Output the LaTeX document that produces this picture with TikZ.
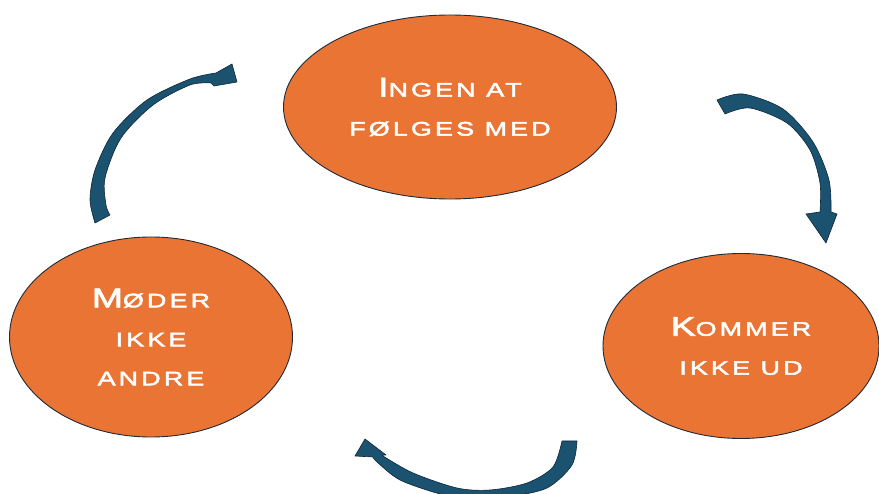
\documentclass[tikz,border=0pt]{standalone}
\usepackage{fontspec}
\setmainfont{Liberation Sans}[FakeStretch=1.38,LetterSpace=16,FakeBold=2.6]
\usetikzlibrary{shapes.geometric}

\definecolor{bubbleorange}{RGB}{233,116,52}
\definecolor{bubbleline}{RGB}{32,42,56}
\definecolor{swoopfill}{RGB}{26,82,112}
\definecolor{swoopline}{RGB}{14,38,56}

% first letter of each label is a full capital, the rest small capitals
\newcommand{\firstcap}[1]{{\fontsize{27}{39}\selectfont #1}}

\begin{document}
\begin{tikzpicture}[
    x=1pt, y=-1pt,
    bubble/.style={ellipse, draw=bubbleline, line width=0.9pt, fill=bubbleorange,
      text=white, align=center, inner sep=0pt,
      font=\fontsize{19.5}{39}\selectfont},
    swoop/.style={fill=swoopfill, draw=swoopline, line width=0.6pt, line join=round}
  ]
    \useasboundingbox (0,0) rectangle (879,494);
    \clip (0,0) rectangle (879,494);

    % the three bubbles
    \node[bubble, minimum width=333pt, minimum height=184pt] (ingen) at (450,107)
        {\firstcap{I}NGEN AT\\FØLGES MED};
    \node[bubble, minimum width=276pt, minimum height=185pt] (kommer) at (741,346)
        {\firstcap{K}OMMER\\IKKE UD};
    \node[bubble, minimum width=283pt, minimum height=200pt] (moder) at (151,337)
        {\firstcap{M}ØDER\\IKKE\\ANDRE};

    % curved arrow, left bubble to top bubble
    \filldraw[swoop] plot[smooth] coordinates {(95,223) (90,200) (95,170) (113,133) (147,100) (190,79) (216,73)}
        -- (232,64) -- (237,82) -- (214,86)
        -- plot[smooth] coordinates {(211,83) (190,85) (153,105) (121,138) (105,178) (106,205) (110,215)}
        -- cycle;

    % curved arrow, top bubble to right bubble
    \filldraw[swoop] plot[smooth] coordinates {(717,100) (743,94) (783,109) (813,142) (829,180) (831,212)}
        -- (837,214) -- (826,243) -- (806,214)
        -- plot[smooth] coordinates {(820,212) (820,183) (810,150) (787,123) (750,108) (725,114)}
        -- cycle;

    % curved arrow, right bubble round to the left
    \filldraw[swoop] plot[smooth] coordinates {(577,441) (572,465) (547,488) (507,497) (470,499) (440,494) (400,480) (377,462) (373,457)}
        -- (355,456) -- (365,439) -- (386,455) -- (382,455)
        -- plot[smooth] coordinates {(383,456) (413,473) (457,488) (490,490) (527,483) (553,467) (562,441)}
        -- cycle;
\end{tikzpicture}
\end{document}
